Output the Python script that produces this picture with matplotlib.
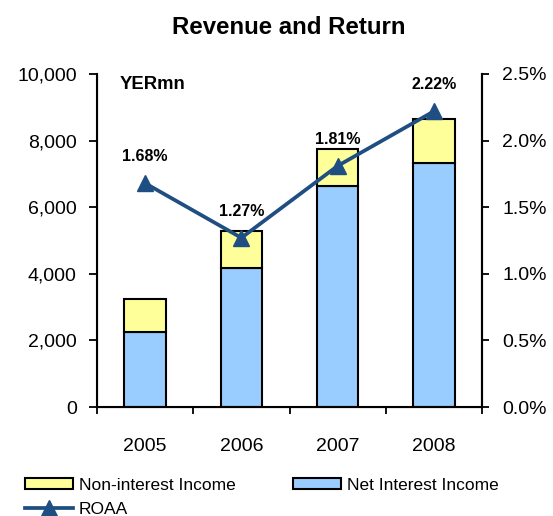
import matplotlib
matplotlib.use("Agg")
import matplotlib.pyplot as plt
import numpy as np
from matplotlib.ticker import FuncFormatter, FixedLocator

plt.rcParams['font.family'] = ['Liberation Sans', 'DejaVu Sans']

years = ["2005", "2006", "2007", "2008"]
net_interest = [2260, 4185, 6640, 7335]
non_interest = [975, 1110, 1100, 1315]
roaa = [1.68, 1.27, 1.81, 2.22]
roaa_labels = ["1.68%", "1.27%", "1.81%", "2.22%"]

yellow = "#FFFF99"
blue = "#99CCFF"
navy = "#1F4E82"

fig = plt.figure(figsize=(5.53, 5.16), dpi=100)
ax = fig.add_axes([97/553, 1-407/516, (482-97)/553, (407-74)/516])
x = np.arange(len(years))
w = 0.43
b1 = ax.bar(x, net_interest, w, color=blue, edgecolor="black", linewidth=1.5, label="Net Interest Income", zorder=2)
b2 = ax.bar(x, non_interest, w, bottom=net_interest, color=yellow, edgecolor="black", linewidth=1.5, label="Non-interest Income", zorder=2)
ax.set_xlim(-0.5, 3.5)
ax.set_ylim(0, 10000)
ax.set_yticks(np.arange(0, 10001, 2000))
ax.yaxis.set_major_formatter(FuncFormatter(lambda v, p: f"{int(v):,}"))
ax.set_xticks(x)
ax.set_xticklabels(years)
ax.xaxis.set_minor_locator(FixedLocator([-0.5, 0.5, 1.5, 2.5, 3.5]))
ax.tick_params(axis='x', which='major', length=0, labelsize=14, pad=22)
ax.tick_params(axis='x', which='minor', length=5, width=1.3, direction='out')
ax.tick_params(axis='y', labelsize=14, length=6, width=1.3, pad=8.5)
for s in ["top"]:
    ax.spines[s].set_visible(False)
for s in ["left", "bottom", "right"]:
    ax.spines[s].set_linewidth(1.5)

ax.text(0.06, 0.995, "YERmn", transform=ax.transAxes, fontsize=13.3, fontweight='bold', va='top', ha='left')

ax2 = ax.twinx()
ax2.set_ylim(0, 2.5)
ax2.set_yticks(np.arange(0, 2.51, 0.5))
ax2.yaxis.set_major_formatter(FuncFormatter(lambda v, p: f"{v:.1f}%"))
ax2.tick_params(axis='y', labelsize=14, length=5, width=1.3, pad=9.5)
ax2.spines["top"].set_visible(False)
ax2.spines["right"].set_linewidth(1.5)
ln, = ax2.plot(x, roaa, color=navy, linewidth=2.7, marker='^', markersize=12, label="ROAA", zorder=3)
for xi, v, lab in zip(x, roaa, roaa_labels):
    ax2.annotate(lab, (xi, v), xytext=(0, 19), textcoords='offset points', ha='center', va='center',
                 fontsize=11.5, fontweight='bold')

fig.text(289/553, 1-28/516, "Revenue and Return", ha='center', va='center', fontsize=17.3, fontweight='bold')

fig.legend([b2, ln, b1], ["Non-interest Income", "ROAA", "Net Interest Income"], ncol=2,
           loc='upper left', bbox_to_anchor=(25/553, 1-478/516), frameon=False, fontsize=12.5,
           borderpad=0, borderaxespad=0, handlelength=2.76, handleheight=0.6, handletextpad=0.35,
           columnspacing=3.3, labelspacing=0.5)

fig.savefig("out.png", dpi=100)
